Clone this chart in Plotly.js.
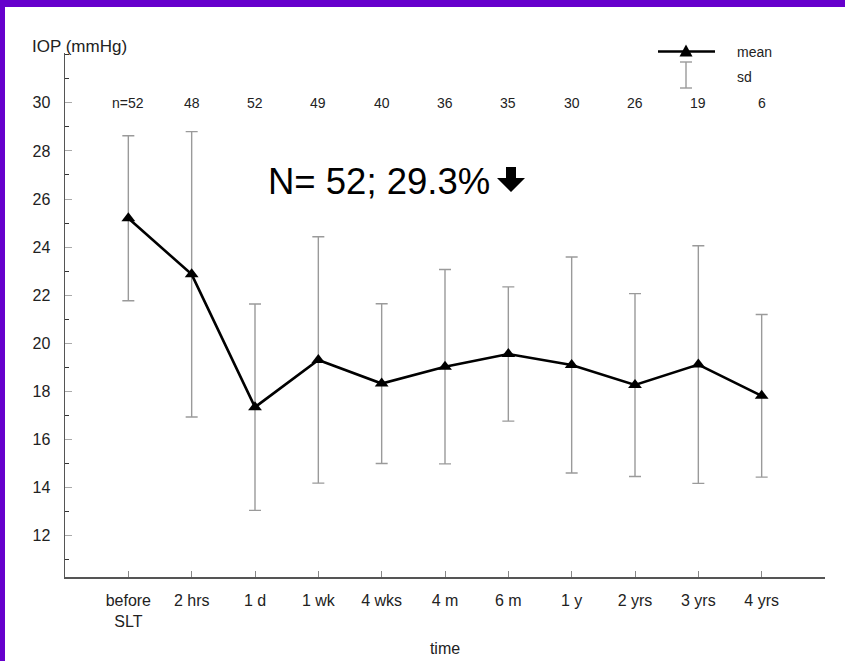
<!DOCTYPE html>
<html>
<head>
<meta charset="utf-8">
<script src="https://cdn.plot.ly/plotly-3.0.1.min.js"></script>
<style>
  html, body { margin: 0; padding: 0; background: #fff; }
  #wrap { position: relative; width: 845px; height: 661px; overflow: hidden; }
  #chart { width: 845px; height: 661px; }
  .bar-top { position: absolute; left: 0; top: 0; width: 845px; height: 7px; background: #6600cc; }
  .bar-left { position: absolute; left: 0; top: 0; width: 5px; height: 661px; background: #6600cc; }
</style>
</head>
<body>
<div id="wrap">
  <div id="chart"></div>
  <div class="bar-top"></div>
  <div class="bar-left"></div>
</div>
<script>
// ---- data ----
const categories = ['before<br>SLT', '2 hrs', '1 d', '1 wk', '4 wks', '4 m', '6 m', '1 y', '2 yrs', '3 yrs', '4 yrs'];
const meanIOP = [25.2, 22.87, 17.35, 19.31, 18.33, 19.03, 19.56, 19.1, 18.27, 19.12, 17.82];
const sdIOP = [3.43, 5.93, 4.29, 5.12, 3.32, 4.04, 2.79, 4.49, 3.8, 4.94, 3.38];
const nCounts = [52, 48, 52, 49, 40, 36, 35, 30, 26, 19, 6];
const yTickVals = [12, 14, 16, 18, 20, 22, 24, 26, 28, 30];
const summaryText = 'N= 52; 29.3%';

const FONT = 'Liberation Sans, Arial, Helvetica, sans-serif';

// plot area geometry in px (for paper-coordinate decorations)
const L = 65, R = 20, T = 53, B = 84, W = 845, H = 661;
const PW = W - L - R, PH = H - T - B;
const px = x => (x - L) / PW;
const py = y => (H - B - y) / PH;

const trace = {
  x: categories,
  y: meanIOP,
  type: 'scatter',
  mode: 'lines+markers',
  line: { color: '#000', width: 2.6 },
  marker: { symbol: 'triangle-up', size: 12, color: '#000' },
  error_y: { type: 'data', array: sdIOP, visible: true, color: '#9a9a9a', thickness: 1.4, width: 6 },
  cliponaxis: false,
  showlegend: false,
  hoverinfo: 'skip'
};

const annotations = nCounts.map((n, i) => ({
  x: i, y: 30, xref: 'x', yref: 'y',
  text: i === 0 ? 'n=' + n : String(n),
  showarrow: false, xanchor: 'center', yanchor: 'middle',
  font: { family: FONT, size: 14, color: '#222' }
}));

annotations.push({
  x: px(30), y: py(46), xref: 'paper', yref: 'paper',
  text: 'IOP (mmHg)', showarrow: false, xanchor: 'left', yanchor: 'middle',
  font: { family: FONT, size: 17, color: '#222' }
});
annotations.push({
  x: px(266), y: py(181), xref: 'paper', yref: 'paper',
  text: summaryText, showarrow: false, xanchor: 'left', yanchor: 'middle',
  font: { family: FONT, size: 36.5, color: '#000' }
});
annotations.push({
  x: px(735), y: py(52), xref: 'paper', yref: 'paper',
  text: 'mean', showarrow: false, xanchor: 'left', yanchor: 'middle',
  font: { family: FONT, size: 14, color: '#222' }
});
annotations.push({
  x: px(735), y: py(77), xref: 'paper', yref: 'paper',
  text: 'sd', showarrow: false, xanchor: 'left', yanchor: 'middle',
  font: { family: FONT, size: 14, color: '#222' }
});

const shapes = [
  // legend: mean line
  { type: 'line', xref: 'paper', yref: 'paper', x0: px(658), x1: px(715), y0: py(51.5), y1: py(51.5),
    line: { color: '#000', width: 2.6 } },
  // legend: triangle
  { type: 'path', xref: 'paper', yref: 'paper', xsizemode: 'pixel', ysizemode: 'pixel',
    xanchor: px(686), yanchor: py(51.5), path: 'M -6.5 -5 L 6.5 -5 L 0 7 Z',
    fillcolor: '#000', line: { width: 0 } },
  // legend: sd bar
  { type: 'line', xref: 'paper', yref: 'paper', x0: px(686), x1: px(686), y0: py(62), y1: py(88),
    line: { color: '#9a9a9a', width: 1.4 } },
  { type: 'line', xref: 'paper', yref: 'paper', x0: px(680), x1: px(692), y0: py(62), y1: py(62),
    line: { color: '#9a9a9a', width: 1.4 } },
  { type: 'line', xref: 'paper', yref: 'paper', x0: px(680), x1: px(692), y0: py(88), y1: py(88),
    line: { color: '#9a9a9a', width: 1.4 } },
  // bold down arrow after the summary text
  { type: 'path', xref: 'paper', yref: 'paper', xsizemode: 'pixel', ysizemode: 'pixel',
    xanchor: px(511), yanchor: py(180),
    path: 'M -5 13 L 5 13 L 5 2 L 14 2 L 0 -12 L -14 2 L -5 2 Z',
    fillcolor: '#000', line: { width: 0 } }
];

const layout = {
  width: W, height: H,
  margin: { l: L, r: R, t: T, b: B, pad: 0 },
  paper_bgcolor: '#fff', plot_bgcolor: '#fff',
  font: { family: FONT, color: '#222' },
  xaxis: {
    type: 'category',
    range: [-1, 11],
    showgrid: false, zeroline: false,
    showline: true, linecolor: '#555', linewidth: 1.5,
    ticks: 'inside', ticklen: 6, tickcolor: '#888', tickwidth: 1,
    ticklabelstandoff: 8,
    tickfont: { family: FONT, size: 16, color: '#222' },
    title: { text: 'time', font: { family: FONT, size: 16, color: '#222' }, standoff: 14 }
  },
  yaxis: {
    range: [10.29, 32.07],
    tickvals: yTickVals,
    showgrid: false, zeroline: false,
    showline: true, linecolor: '#555', linewidth: 1.5,
    ticks: 'inside', ticklen: 7, tickcolor: '#aaa', tickwidth: 1,
    ticklabelstandoff: 10,
    tickfont: { family: FONT, size: 16, color: '#222' },
    minor: { dtick: 1, tick0: 11, ticks: 'inside', ticklen: 4, tickcolor: '#333', tickwidth: 1, showgrid: false }
  },
  annotations: annotations,
  shapes: shapes,
  showlegend: false
};

Plotly.newPlot('chart', [trace], layout, { displayModeBar: false, staticPlot: true });
</script>
</body>
</html>
